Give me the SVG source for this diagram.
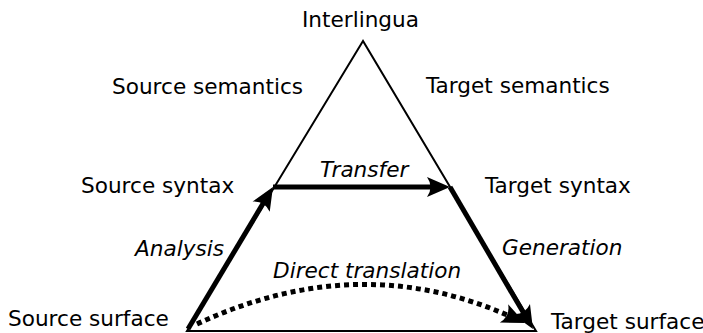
<svg xmlns="http://www.w3.org/2000/svg" width="703" height="333" viewBox="0 0 703 333">
<style>
.lbl{font-family:"DejaVu Sans",sans-serif;font-size:21.6px;fill:#000}
.it{font-style:italic}
.thin{fill:none;stroke:#000;stroke-width:2}
.thick{fill:none;stroke:#000;stroke-width:5}
.dot{fill:none;stroke:#000;stroke-width:5;stroke-dasharray:5 4}
</style>
<defs>
<marker id="ah" markerUnits="userSpaceOnUse" viewBox="-12 -11 26 22" refX="0" refY="0" markerWidth="26" markerHeight="22" orient="auto" overflow="visible">
<path d="M 12 0 L -11 -10 Q -4 0 -11 10 Z" fill="#000"/>
</marker>
</defs>
<rect width="703" height="333" fill="#fff"/>
<g id="connectors">
<polygon class="thin" points="363,41 187,331 536,331"/>
<line id="analysis" class="thick" x1="188" y1="329" x2="266.8" y2="197.3" marker-end="url(#ah)"/>
<line id="transfer" class="thick" x1="273" y1="187" x2="438" y2="187" marker-end="url(#ah)"/>
<line id="generation" class="thick" x1="450" y1="187" x2="526.9" y2="318.6" marker-end="url(#ah)"/>
<path id="direct" class="dot" d="M197,324 Q360,248 514,318" marker-end="url(#ah)"/>
</g>
<g id="interlingua"><text class="lbl" x="302" y="27">Interlingua</text></g>
<g id="source-semantics"><text class="lbl" x="112" y="94">Source semantics</text></g>
<g id="target-semantics"><text class="lbl" x="426" y="93">Target semantics</text></g>
<g id="source-syntax"><text class="lbl" x="81" y="193">Source syntax</text></g>
<g id="target-syntax"><text class="lbl" x="485" y="193">Target syntax</text></g>
<g id="source-surface"><text class="lbl" x="8" y="326">Source surface</text></g>
<g id="target-surface"><text class="lbl" x="551" y="329">Target surface</text></g>
<g id="labels">
<text class="lbl it" x="320" y="177">Transfer</text>
<text class="lbl it" x="135" y="256">Analysis</text>
<text class="lbl it" x="502" y="255">Generation</text>
<text class="lbl it" x="273" y="278">Direct translation</text>
</g>
</svg>
